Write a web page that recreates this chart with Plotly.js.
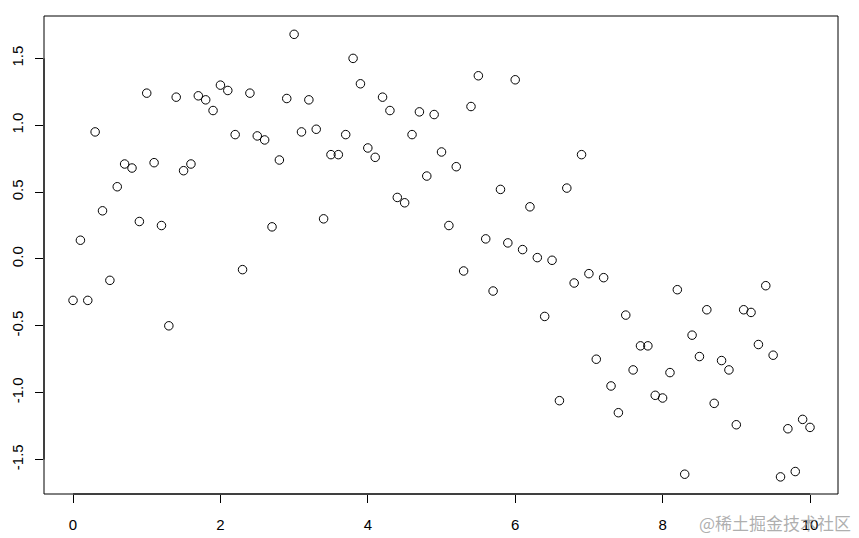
<!DOCTYPE html>
<html>
<head>
<meta charset="utf-8">
<script src="https://cdn.plot.ly/plotly-3.0.1.min.js"></script>
<style>html,body{margin:0;padding:0;background:#fff;}#chart{width:859px;height:538px;}</style>
</head>
<body>
<div id="chart"></div>
<script>
// x values: 0, 0.1, ..., 10
const xValues = [0,0.1,0.2,0.3,0.4,0.5,0.6,0.7,0.8,0.9,1,1.1,1.2,1.3,1.4,1.5,1.6,1.7,1.8,1.9,2,2.1,2.2,2.3,2.4,2.5,2.6,2.7,2.8,2.9,3,3.1,3.2,3.3,3.4,3.5,3.6,3.7,3.8,3.9,4,4.1,4.2,4.3,4.4,4.5,4.6,4.7,4.8,4.9,5,5.1,5.2,5.3,5.4,5.5,5.6,5.7,5.8,5.9,6,6.1,6.2,6.3,6.4,6.5,6.6,6.7,6.8,6.9,7,7.1,7.2,7.3,7.4,7.5,7.6,7.7,7.8,7.9,8,8.1,8.2,8.3,8.4,8.5,8.6,8.7,8.8,8.9,9,9.1,9.2,9.3,9.4,9.5,9.6,9.7,9.8,9.9,10];
const yValues = [-0.31,0.14,-0.31,0.95,0.36,-0.16,0.54,0.71,0.68,0.28,
  1.24,0.72,0.25,-0.50,1.21,0.66,0.71,1.22,1.19,1.11,
  1.30,1.26,0.93,-0.08,1.24,0.92,0.89,0.24,0.74,1.20,
  1.68,0.95,1.19,0.97,0.30,0.78,0.78,0.93,1.50,1.31,
  0.83,0.76,1.21,1.11,0.46,0.42,0.93,1.10,0.62,1.08,
  0.80,0.25,0.69,-0.09,1.14,1.37,0.15,-0.24,0.52,0.12,
  1.34,0.07,0.39,0.01,-0.43,-0.01,-1.06,0.53,-0.18,0.78,
  -0.11,-0.75,-0.14,-0.95,-1.15,-0.42,-0.83,-0.65,-0.65,-1.02,
  -1.04,-0.85,-0.23,-1.61,-0.57,-0.73,-0.38,-1.08,-0.76,-0.83,
  -1.24,-0.38,-0.40,-0.64,-0.20,-0.72,-1.63,-1.27,-1.59,-1.20,-1.26];
const xTicks = [0,2,4,6,8,10];
const yTicks = [-1.5,-1.0,-0.5,0.0,0.5,1.0,1.5];
const yTickLabels = ["-1.5","-1.0","-0.5","0.0","0.5","1.0","1.5"];
const watermark = "@稀土掘金技术社区";

const trace = {
  x: xValues, y: yValues, type: 'scatter', mode: 'markers',
  marker: {symbol: 'circle-open', size: 8.5, color: '#000', line: {width: 1, color: '#000'}},
  hoverinfo: 'none'
};
const font = {family: 'Liberation Sans, Arial, sans-serif', size: 15, color: '#000'};
const layout = {
  width: 859, height: 538,
  margin: {l: 44, r: 21, t: 16, b: 44},
  paper_bgcolor: '#fff', plot_bgcolor: '#fff',
  showlegend: false,
  xaxis: {
    range: [-0.394, 10.38], tickvals: xTicks, ticktext: xTicks.map(String),
    ticks: 'outside', ticklen: 8, tickwidth: 1, tickcolor: '#000',
    showgrid: false, zeroline: false, showline: false, tickfont: font, ticklabelstandoff: 9
  },
  yaxis: {
    range: [-1.758, 1.817], tickvals: yTicks, ticktext: yTickLabels,
    ticks: 'outside', ticklen: 8, tickwidth: 1, tickcolor: '#000', tickangle: -90,
    showgrid: false, zeroline: false, showline: false, tickfont: font, ticklabelstandoff: 6
  },
  shapes: [
    {type: 'rect', xref: 'paper', yref: 'paper', x0: 0, x1: 1, y0: 0, y1: 1,
     line: {color: '#000', width: 1}, fillcolor: 'rgba(0,0,0,0)'},
    {type: 'line', xref: 'x', yref: 'paper', x0: 0, x1: 10, y0: 0, y1: 0, line: {color: '#000', width: 1}},
    {type: 'line', xref: 'paper', yref: 'y', x0: 0, x1: 0, y0: -1.5, y1: 1.5, line: {color: '#000', width: 1}}
  ],
  annotations: [
    {text: watermark, xref: 'paper', yref: 'paper', x: 1.0185, y: -0.0586, xanchor: 'right', yanchor: 'middle',
     showarrow: false, font: {family: 'Noto Sans CJK SC, sans-serif', size: 17, color: 'rgba(140,140,140,0.7)'}}
  ]
};
Plotly.newPlot('chart', [trace], layout, {staticPlot: true, displayModeBar: false});
</script>
</body>
</html>
